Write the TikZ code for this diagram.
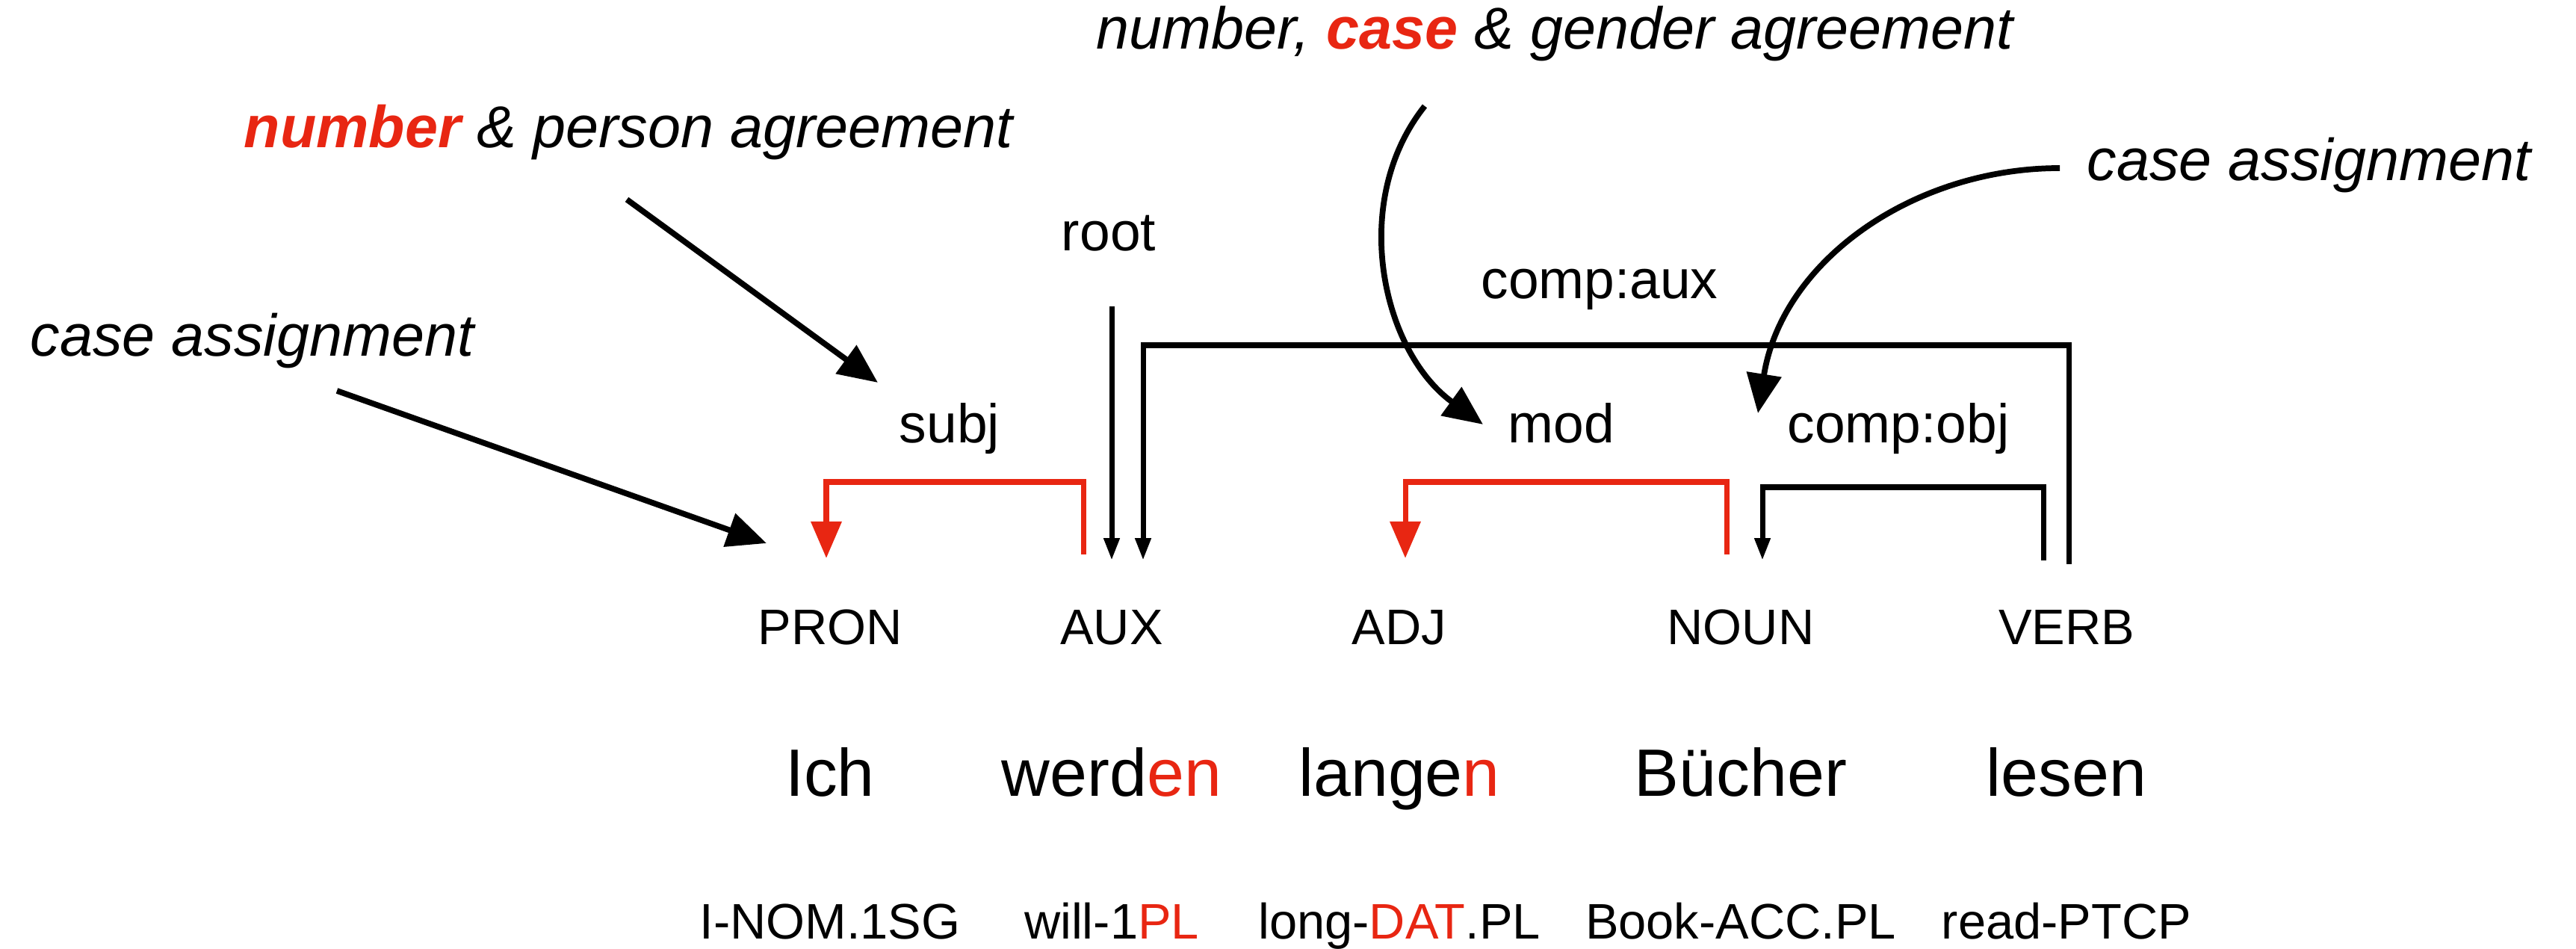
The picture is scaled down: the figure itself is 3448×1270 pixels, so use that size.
\documentclass[tikz,border=0pt]{standalone}
\usepackage{fontspec}
\setmainfont{Liberation Sans}
\usepackage{tikz}
\usetikzlibrary{arrows.meta, positioning, calc}
\definecolor{agrred}{RGB}{232,38,18}
\newcommand{\hl}[1]{\textcolor{agrred}{#1}}
\tikzset{
  postag/.style={anchor=base, font=\fontsize{19}{22}\selectfont},
  wordform/.style={anchor=base, font=\fontsize{25.5}{30}\selectfont},
  glossform/.style={anchor=base, font=\fontsize{19}{22}\selectfont},
  deplabel/.style={anchor=base, font=\fontsize{20.8}{24}\selectfont},
  agrnote/.style={anchor=base west, inner sep=0pt, font=\fontsize{22.5}{27}\selectfont\itshape},
  dep/.style={-{Triangle[length=8.5pt,width=5.7pt]}, line width=2pt, black},
  depred/.style={-{Triangle[length=14pt,width=11.4pt]}, line width=2pt, agrred},
  notearrow/.style={-{Triangle[length=15pt,width=13pt]}, line width=2.2pt, black}
}

\begin{document}
\begin{tikzpicture}[x=0.01cm, y=0.01cm]
  \useasboundingbox (0,0) rectangle (3448,1270);

  % Parts of speech
  \node[postag] (pron) at (1111,407) {PRON};
  \node[postag] (aux)  at (1488,407) {AUX};
  \node[postag] (adj)  at (1873,407) {ADJ};
  \node[postag] (noun) at (2330,407) {NOUN};
  \node[postag] (verb) at (2766,407) {VERB};

  % Words
  \node[wordform] (ich)     at (1111,204) {Ich};
  \node[wordform] (werden)  at (1488,204) {werd\hl{en}};
  \node[wordform] (langen)  at (1873,204) {lange\hl{n}};
  \node[wordform] (buecher) at (2330,204) {Bücher};
  \node[wordform] (lesen)   at (2766,204) {lesen};

  % Glosses
  \node[glossform] (gich)     at (1111,13) {I-NOM.1SG};
  \node[glossform] (gwerden)  at (1488,13) {will-1\hl{PL}};
  \node[glossform] (glangen)  at (1873,13) {long-\hl{DAT}.PL};
  \node[glossform] (gbuecher) at (2330,13) {Book-ACC.PL};
  \node[glossform] (glesen)   at (2766,13) {read-PTCP};

  % Relation labels
  \node[deplabel] (rootlbl) at (1484,934) {root};
  \node[deplabel] (subjlbl) at (1271,677) {subj};
  \node[deplabel] (modlbl)  at (2090,677) {mod};
  \node[deplabel] (objlbl)  at (2541,677) {comp:obj};
  \node[deplabel] (auxlbl)  at (2141,870) {comp:aux};

  % Dependency arcs
  \coordinate (roottop) at (1488,860);
  \draw[dep] (roottop) -- ([shift={(0,113)}]aux.base);
  \draw[depred] ([shift={(-38,121)}]aux.base) -- ++(0,97) -| ([shift={(-5,116)}]pron.base);
  \draw[dep] ([shift={(3,108)}]verb.base) -- ++(0,293) -| ([shift={(42,113)}]aux.base);
  \draw[depred] ([shift={(-19,121)}]noun.base) -- ++(0,97) -| ([shift={(8,116)}]adj.base);
  \draw[dep] ([shift={(-31,113)}]verb.base) -- ++(0,98) -| ([shift={(29,113)}]noun.base);

  % Agreement notes
  \node[agrnote] (caseL) at (40,793) {case assignment};
  \node[agrnote] (numP)  at (326,1072) {\textbf{\hl{number}} \& person agreement};
  \node[agrnote] (numC)  at (1467,1204) {number, \textbf{\hl{case}} \& gender agreement};
  \node[agrnote] (caseR) at (2793,1028) {case assignment};

  % Note arrows
  \coordinate (caseLtip) at (1026,543);
  \draw[notearrow] ([shift={(411,-46)}]caseL.base west) -- (caseLtip);
  \coordinate (numPtip) at (1175,758);
  \draw[notearrow] ([shift={(513,-69)}]numP.base west) -- (numPtip);
  \coordinate (numCtip) at (1985,702);
  \draw[notearrow] ([shift={(440,-76)}]numC.base west) .. controls (1805,1000) and (1850,800) .. (numCtip);
  \coordinate (caseRtip) at (2353,717);
  \draw[notearrow] ([shift={(-36,17)}]caseR.base west) .. controls (2560,1045) and (2385,920) .. (caseRtip);
\end{tikzpicture}
\end{document}
